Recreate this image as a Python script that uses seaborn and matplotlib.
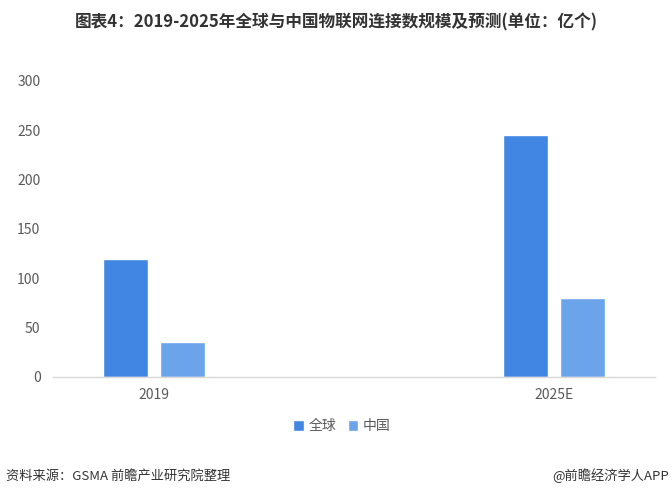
import matplotlib
matplotlib.use("Agg")
import matplotlib.pyplot as plt
import pandas as pd
import seaborn as sns

years = ["2019", "2025E"]
series = ["全球", "中国"]
global_vals = [120, 245]
china_vals = [35, 80]
yticks = [0, 50, 100, 150, 200, 250, 300]
colors = ["#4186E2", "#6CA4EC"]

df = pd.DataFrame({
    "year": years * 2,
    "region": [series[0]] * len(years) + [series[1]] * len(years),
    "value": global_vals + china_vals,
})

sns.set_theme(style="white")
plt.rcParams["font.family"] = ["Noto Sans CJK SC", "DejaVu Sans"]

fig = plt.figure(figsize=(6.72, 4.97), dpi=100)
ax = fig.add_axes([53 / 672, 120 / 497, 602 / 672, 296 / 497])

sns.barplot(data=df, x="year", y="value", hue="region", hue_order=series,
            palette=colors, width=0.285, gap=0.21, saturation=1, ax=ax)

ax.set_xlim(-0.2525, 1.2525)
ax.set_ylim(0, 300)
ax.set_yticks(yticks)
ax.set_xlabel("")
ax.set_ylabel("")
for side in ["top", "right", "left"]:
    ax.spines[side].set_visible(False)
ax.spines["bottom"].set_color("#d9d9d9")
ax.spines["bottom"].set_linewidth(1)
ax.tick_params(axis="both", length=0, labelsize=10, labelcolor="#595959")
ax.tick_params(axis="y", pad=9)
ax.tick_params(axis="x", pad=8)

ax.legend(loc="upper center", bbox_to_anchor=(0.48, -0.1), ncol=2, frameon=False,
          fontsize=10, handlelength=0.75, handleheight=0.8, handletextpad=0.35,
          columnspacing=0.8, labelcolor="#595959")

fig.text(0.5, 1 - 22 / 497, "图表4：2019-2025年全球与中国物联网连接数规模及预测(单位：亿个)",
         ha="center", va="center", fontsize=12, fontweight="bold", color="#333333")
fig.text(6 / 672, 1 - 476 / 497, "资料来源：GSMA 前瞻产业研究院整理",
         ha="left", va="center", fontsize=9.5, color="#333333")
fig.text(669 / 672, 1 - 476 / 497, "@前瞻经济学人APP",
         ha="right", va="center", fontsize=9.5, color="#333333")

fig.savefig("out.png", dpi=100)
